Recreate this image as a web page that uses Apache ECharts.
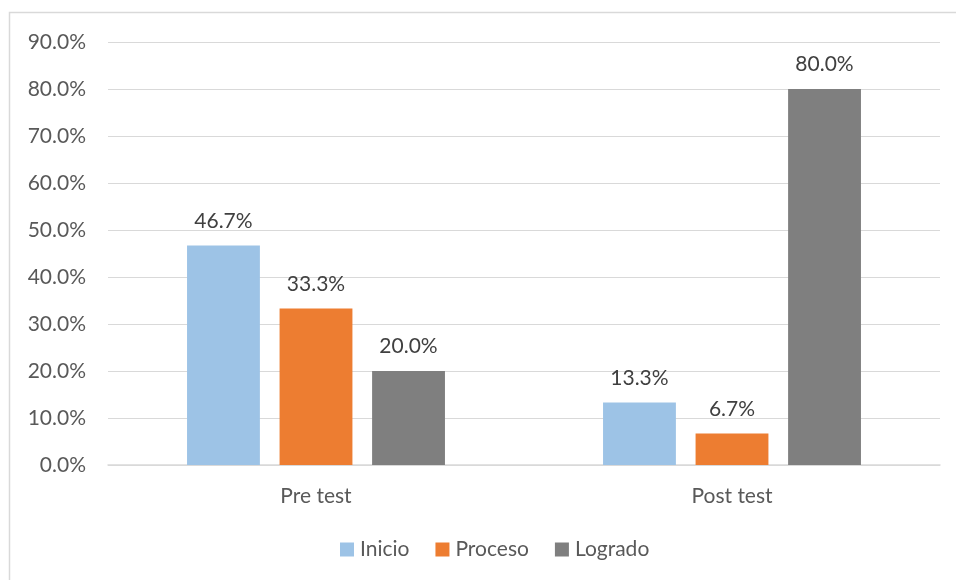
<!DOCTYPE html>
<html><head><meta charset="utf-8">
<script src="https://cdn.jsdelivr.net/npm/echarts@6/dist/echarts.min.js"></script>
<style>html,body{margin:0;padding:0;background:#fff}#c{width:956px;height:580px}</style>
</head><body><div id="c"></div>
<script>
const categories = ['Pre test', 'Post test'];
const inicio = [46.7, 13.3];
const proceso = [33.3, 6.7];
const logrado = [20.0, 80.0];
const seriesNames = ['Inicio', 'Proceso', 'Logrado'];
const colors = ['#9DC3E6', '#ED7D31', '#7F7F7F'];
const FONT = 'Lato';
const FS = 21;
const chart = echarts.init(document.getElementById('c'));
const lbl = {show: true, position: 'top', distance: 14, formatter: p => p.value.toFixed(1) + '%', color: '#404040', fontSize: FS, fontFamily: FONT};
chart.setOption({
  animation: false,
  textStyle: {fontFamily: FONT},
  graphic: [{type: 'rect', shape: {x: 9.5, y: 12.5, width: 960, height: 600}, style: {fill: 'none', stroke: '#d9d9d9', lineWidth: 1.5}, silent: true}],
  grid: {left: 108, right: 16, top: 42, bottom: 115},
  legend: {bottom: 15, left: 335, itemWidth: 14, itemHeight: 14, itemGap: 26, itemStyle: {borderWidth: 0}, icon: 'rect',
    textStyle: {fontSize: FS, color: '#595959', fontFamily: FONT, padding: [0, 0, 0, 1]}, data: seriesNames},
  xAxis: {type: 'category', data: categories, axisTick: {show: false},
    axisLine: {lineStyle: {color: '#d9d9d9', width: 1.5}},
    axisLabel: {fontSize: FS, color: '#595959', margin: 21, fontFamily: FONT}},
  yAxis: {type: 'value', min: 0, max: 90, interval: 10,
    axisLabel: {formatter: v => v.toFixed(1) + '%', fontSize: FS, color: '#595959', margin: 22, fontFamily: FONT},
    splitLine: {lineStyle: {color: '#d9d9d9', width: 1.2}}},
  series: [
    {name: seriesNames[0], type: 'bar', data: inicio, itemStyle: {color: colors[0]}, label: lbl, barGap: '27%', barCategoryGap: '38%'},
    {name: seriesNames[1], type: 'bar', data: proceso, itemStyle: {color: colors[1]}, label: lbl},
    {name: seriesNames[2], type: 'bar', data: logrado, itemStyle: {color: colors[2]}, label: lbl}
  ]
});
</script></body></html>
